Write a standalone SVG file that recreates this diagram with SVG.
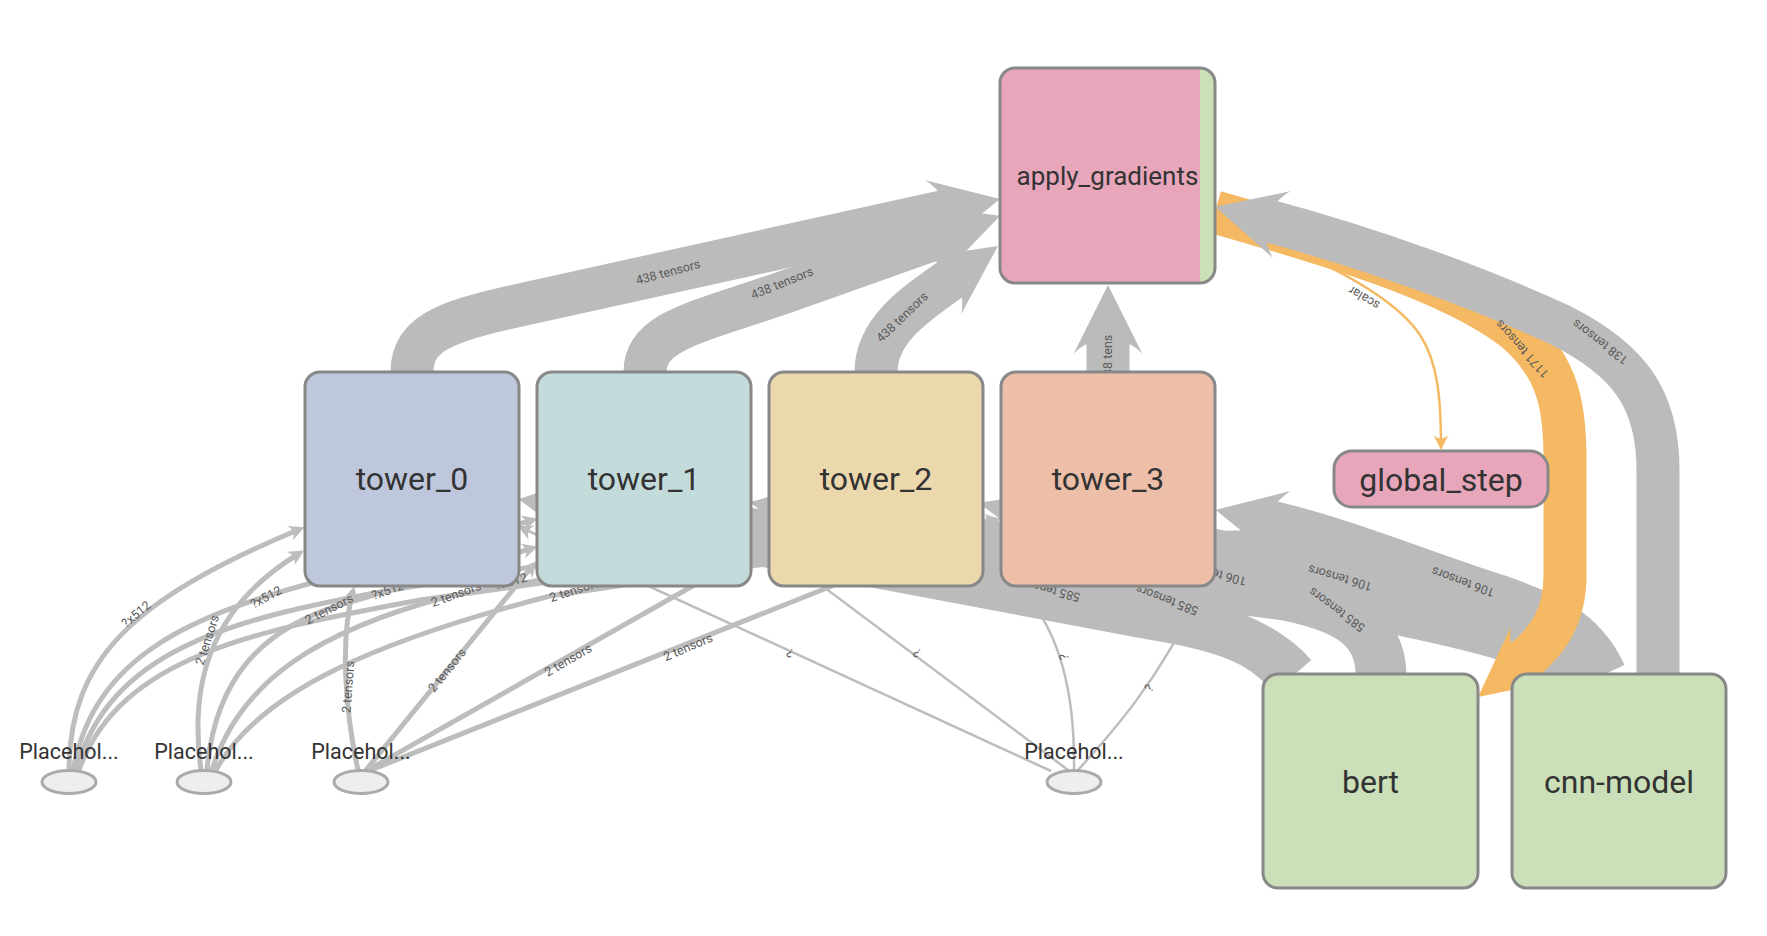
<svg xmlns="http://www.w3.org/2000/svg" width="1767" height="936" viewBox="0 0 1767 936">
<defs>
<style>
.band{fill:none;stroke:#bbbbbb;stroke-width:43}
.bando{fill:none;stroke:#f4b962;stroke-width:43}
.thin{fill:none;stroke:#bdbdbd;stroke-width:5}
.hair{fill:none;stroke:#bdbdbd;stroke-width:2.5}
.scal{fill:none;stroke:#f4b962;stroke-width:2.5}
.el{font-family:Roboto,"Liberation Sans",sans-serif;font-size:12.5px;fill:#5a5a5a;text-anchor:middle}
.els{font-family:Roboto,"Liberation Sans",sans-serif;font-size:12.5px;fill:#5a5a5a;text-anchor:start}
.ele{font-family:Roboto,"Liberation Sans",sans-serif;font-size:12.5px;fill:#5a5a5a;text-anchor:end}
.box{stroke:#888888;stroke-width:3}
.nl{font-family:Roboto,"Liberation Sans",sans-serif;font-size:32px;fill:#333333;text-anchor:middle}
.pl{font-family:Roboto,"Liberation Sans",sans-serif;font-size:21.5px;fill:#333333;text-anchor:middle}
.ph{fill:#eeeeee;stroke:#aaaaaa;stroke-width:3}
</style>
<marker id="ag" viewBox="0 0 10 10" refX="2.5" refY="5" markerWidth="1.6" markerHeight="1.6" markerUnits="strokeWidth" orient="auto"><path d="M0,0 L10,5 L0,10 C3,7 3,3 0,0 Z" fill="#bbbbbb"/></marker>
<marker id="ao" viewBox="0 0 10 10" refX="2.5" refY="5" markerWidth="1.6" markerHeight="1.6" markerUnits="strokeWidth" orient="auto"><path d="M0,0 L10,5 L0,10 C3,7 3,3 0,0 Z" fill="#f4b962"/></marker>
<marker id="as" viewBox="0 0 10 10" refX="7" refY="5" markerWidth="16" markerHeight="16" markerUnits="userSpaceOnUse" orient="auto"><path d="M0,0 L10,5 L0,10 C3,7 3,3 0,0 Z" fill="#bdbdbd"/></marker>
<marker id="aso" viewBox="0 0 10 10" refX="8" refY="5" markerWidth="15" markerHeight="15" markerUnits="userSpaceOnUse" orient="auto"><path d="M0,0 L10,5 L0,10 C3,7 3,3 0,0 Z" fill="#f4b962"/></marker>
<linearGradient id="agfill" x1="0" y1="0" x2="1" y2="0"><stop offset="0.93" stop-color="#e8a6bb"/><stop offset="0.93" stop-color="#cbe0b8"/></linearGradient>
</defs>
<rect width="1767" height="936" fill="#ffffff"/>

<g id="connectors">
<!-- Placeholder 4 edges -->
<path class="hair" marker-end="url(#as)" d="M1051,771 L522,528"/>
<path class="hair" marker-end="url(#as)" d="M1068,770 L753,534"/>
<path class="hair" marker-end="url(#as)" d="M1074,770 C1075,700 1062,640 1030,600 L985,548"/>
<path class="hair" marker-end="url(#as)" d="M1078,770 C1110,735 1160,680 1200,592"/>
<!-- Placeholder 1-3 edges -->
<path class="thin" marker-end="url(#as)" d="M69,770 C70,660 130,600 300,529"/>
<path class="thin" marker-end="url(#as)" d="M73,770 C95,655 190,615 330,578 L533,520"/>
<path class="thin" marker-end="url(#as)" d="M76,770 C110,650 230,620 380,592 L765,528"/>
<path class="thin" marker-end="url(#as)" d="M79,770 C120,655 260,630 420,600 L996,520"/>
<path class="thin" marker-end="url(#as)" d="M201,770 C190,690 205,610 300,553"/>
<path class="thin" marker-end="url(#as)" d="M207,770 C215,680 260,630 340,605 L533,548"/>
<path class="thin" marker-end="url(#as)" d="M212,770 C240,680 320,630 450,596 L765,540"/>
<path class="thin" marker-end="url(#as)" d="M216,770 C260,690 380,640 550,596 L996,530"/>
<path class="thin" marker-end="url(#as)" d="M358,770 C345,710 340,640 353,591"/>
<path class="thin" marker-end="url(#as)" d="M366,770 L533,565"/>
<path class="thin" marker-end="url(#as)" d="M368,770 L765,545"/>
<path class="thin" marker-end="url(#as)" d="M371,770 L997,520"/>
<!-- bert -> towers -->
<path class="band" marker-end="url(#ag)" d="M1285,674 C1262,645 1225,630 1150,618 L570,509"/>
<path class="band" marker-end="url(#ag)" d="M1295,674 C1270,645 1230,628 1160,612 L801,515"/>
<path class="band" marker-end="url(#ag)" d="M1377,674 C1377,630 1345,612 1290,600 L1032,518"/>
<path class="band" marker-end="url(#ag)" d="M1385,674 C1385,625 1330,585 1262,553"/>
<!-- cnn-model -> towers -->
<path class="band" marker-end="url(#ag)" d="M1575,674 C1550,650 1500,635 1400,614 L570,506"/>
<path class="band" marker-end="url(#ag)" d="M1580,674 C1555,648 1505,632 1420,614 L801,511"/>
<path class="band" marker-end="url(#ag)" d="M1590,674 C1565,640 1520,625 1450,605 C1330,575 1150,535 1032,514"/>
<path class="band" marker-end="url(#ag)" d="M1605,674 C1585,630 1550,612 1480,590 C1400,563 1330,535 1266,521"/>
<!-- towers -> apply_gradients -->
<path class="band" marker-end="url(#ag)" d="M412,372 C412,330 450,320 543,300 L949.6,210.2"/>
<path class="band" marker-end="url(#ag)" d="M645,372 C645,330 700,322 788,291 L951.6,232.9"/>
<path class="band" marker-end="url(#ag)" d="M876,372 C876,330 914.7,304.3 955.7,275.6"/>
<path class="band" marker-end="url(#ag)" d="M1108,372 L1108,336.6"/>
<!-- apply_gradients -> global_step (scalar) -->
<path class="scal" marker-end="url(#aso)" d="M1222,222 C1300,250 1390,290 1420,335 C1438,362 1441,400 1441,447"/>
<!-- apply_gradients -> bert (orange) -->
<path class="bando" marker-end="url(#ao)" d="M1215,212 C1330,245 1450,280 1515,330 C1560,368 1565,410 1565,460 L1565,575 C1565,615 1550,640 1518.5,665"/>
<!-- cnn-model -> apply_gradients -->
<path class="band" marker-end="url(#ag)" d="M1658,674 L1658,470 C1658,400 1630,360 1560,325 C1480,288 1370,248 1265,220"/>
</g>

<g id="edge-labels">
<text class="el" dy="0.35em" transform="translate(668,272) rotate(-15)">438 tensors</text>
<text class="el" dy="0.35em" transform="translate(782,283) rotate(-22)">438 tensors</text>
<text class="el" dy="0.35em" transform="translate(902,317) rotate(-44)">438 tensors</text>
<text class="els" dy="0.35em" transform="translate(1108,383) rotate(-90)">438 tens</text>
<text class="el" dy="0.35em" transform="translate(1522,349) rotate(228)">1171 tensors</text>
<text class="el" dy="0.35em" transform="translate(1600,342) rotate(217)">138 tensors</text>
<text class="el" dy="0.35em" transform="translate(1364,298) rotate(211)">scalar</text>
<text class="el" dy="0.35em" transform="translate(1340,578) rotate(196)">106 tensors</text>
<text class="el" dy="0.35em" transform="translate(1463,582) rotate(200)">106 tensors</text>
<text class="el" dy="0.35em" transform="translate(1337,610) rotate(216)">585 tensors</text>
<text class="el" dy="0.35em" transform="translate(1167,600) rotate(201)">585 tensors</text>
<text class="els" dy="0.35em" transform="translate(1080,598) rotate(195)">585 tensors</text>
<text class="els" dy="0.35em" transform="translate(1246,582) rotate(195)">106 tensors</text>
<text class="el" dy="0.35em" transform="translate(136,614) rotate(-40)">?x512</text>
<text class="el" dy="0.35em" transform="translate(266,597) rotate(-28)">?x512</text>
<text class="els" dy="0.35em" transform="translate(372,596) rotate(-20)">?x512</text>
<text class="ele" dy="0.35em" transform="translate(527,577) rotate(-15)">?x512</text>
<text class="el" dy="0.35em" transform="translate(207,640) rotate(-72)">2 tensors</text>
<text class="el" dy="0.35em" transform="translate(329,609) rotate(-27)">2 tensors</text>
<text class="el" dy="0.35em" transform="translate(456,594) rotate(-20)">2 tensors</text>
<text class="els" dy="0.35em" transform="translate(550,598) rotate(-18)">2 tensors</text>
<text class="el" dy="0.35em" transform="translate(348,687) rotate(-86)">2 tensors</text>
<text class="el" dy="0.35em" transform="translate(447,670) rotate(-51)">2 tensors</text>
<text class="el" dy="0.35em" transform="translate(568,660) rotate(-30)">2 tensors</text>
<text class="el" dy="0.35em" transform="translate(688,647) rotate(-23)">2 tensors</text>
<text class="el" dy="0.35em" transform="translate(790,653) rotate(205)">?</text>
<text class="el" dy="0.35em" transform="translate(917,653) rotate(217)">?</text>
<text class="el" dy="0.35em" transform="translate(1064,657) rotate(-95)">?</text>
<text class="el" dy="0.35em" transform="translate(1149,688) rotate(-57)">?</text>
</g>

<g id="apply_gradients">
<rect class="box" x="1000" y="68" width="215" height="215" rx="15" fill="url(#agfill)"/>
<text x="1107.5" y="185" font-family="Roboto,'Liberation Sans',sans-serif" font-size="26" fill="#333333" text-anchor="middle">apply_gradients</text>
</g>
<g id="tower_0">
<rect class="box" x="305" y="372" width="214" height="214" rx="15" fill="#bec7db"/>
<text class="nl" x="412" y="490">tower_0</text>
</g>
<g id="tower_1">
<rect class="box" x="537" y="372" width="214" height="214" rx="15" fill="#c3dbdb"/>
<text class="nl" x="644" y="490">tower_1</text>
</g>
<g id="tower_2">
<rect class="box" x="769" y="372" width="214" height="214" rx="15" fill="#ecd8ad"/>
<text class="nl" x="876" y="490">tower_2</text>
</g>
<g id="tower_3">
<rect class="box" x="1001" y="372" width="214" height="214" rx="15" fill="#edbfa8"/>
<text class="nl" x="1108" y="490">tower_3</text>
</g>
<g id="global_step">
<rect class="box" x="1334" y="451" width="214" height="56" rx="18" fill="#e8a6bb"/>
<text class="nl" x="1441" y="491">global_step</text>
</g>
<g id="bert">
<rect class="box" x="1263" y="674" width="215" height="214" rx="15" fill="#cbe0b8"/>
<text class="nl" x="1370.5" y="793">bert</text>
</g>
<g id="cnn-model">
<rect class="box" x="1512" y="674" width="214" height="214" rx="15" fill="#cbe0b8"/>
<text class="nl" x="1619" y="793">cnn-model</text>
</g>
<g id="placeholder_0">
<ellipse class="ph" cx="69" cy="782" rx="27" ry="11.5"/>
<text class="pl" x="69" y="759">Placehol...</text>
</g>
<g id="placeholder_1">
<ellipse class="ph" cx="204" cy="782" rx="27" ry="11.5"/>
<text class="pl" x="204" y="759">Placehol...</text>
</g>
<g id="placeholder_2">
<ellipse class="ph" cx="361" cy="782" rx="27" ry="11.5"/>
<text class="pl" x="361" y="759">Placehol...</text>
</g>
<g id="placeholder_3">
<ellipse class="ph" cx="1074" cy="782" rx="27" ry="11.5"/>
<text class="pl" x="1074" y="759">Placehol...</text>
</g>
</svg>
